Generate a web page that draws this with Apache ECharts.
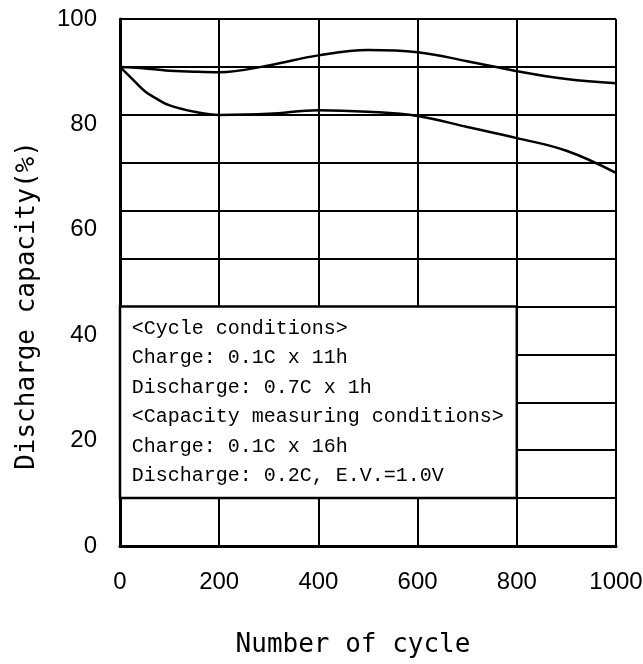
<!DOCTYPE html>
<html>
<head>
<meta charset="utf-8">
<title>Discharge capacity</title>
<script src="https://cdn.jsdelivr.net/npm/echarts@6/dist/echarts.min.js"></script>
<style>
  body { margin: 0; background: #fff; }
  #main { width: 643px; height: 664px; }
</style>
</head>
<body>
<div id="main"></div>
<script>
// data
var cycles = [0, 25, 50, 75, 100, 150, 200, 300, 400, 500, 600, 700, 800, 900, 1000];
var upperCurve = [90.9, 90.8, 90.6, 90.4, 90.2, 90.0, 89.9, 91.2, 93.1, 94.1, 93.7, 92.0, 90.1, 88.6, 87.8];
var lowerCurve = [90.9, 88.6, 86.3, 84.8, 83.6, 82.4, 81.8, 82.0, 82.7, 82.4, 81.6, 79.5, 77.4, 75.0, 70.8];
var xTicks = [0, 200, 400, 600, 800, 1000];
var yTicks = [0, 20, 40, 60, 80, 100];
var gridRows = 11; // horizontal rules split the box in 11 bands
var noteLines = [
  '<Cycle conditions>',
  'Charge: 0.1C x 11h',
  'Discharge: 0.7C x 1h',
  '<Capacity measuring conditions>',
  'Charge: 0.1C x 16h',
  'Discharge: 0.2C, E.V.=1.0V'
];

var chart = echarts.init(document.getElementById('main'));

function pairs(xs, ys) {
  return xs.map(function (x, i) { return [x, ys[i]]; });
}

var labelFont = { color: '#000', fontFamily: 'Liberation Sans', fontSize: 24 };
var titleFont = { color: '#000', fontFamily: 'DejaVu Sans Mono', fontSize: 26 };

var option = {
  animation: false,
  backgroundColor: '#fff',
  grid: { left: 120, right: 27, top: 19, bottom: 118, outerBoundsMode: 'none' },
  xAxis: {
    type: 'value',
    min: xTicks[0],
    max: xTicks[xTicks.length - 1],
    interval: xTicks[1] - xTicks[0],
    name: 'Number of cycle',
    nameLocation: 'middle',
    nameGap: 86,
    nameTextStyle: Object.assign({ padding: [0, 30, 0, 0] }, titleFont),
    axisLine: { show: true, lineStyle: { color: '#000', width: 3 } },
    axisTick: { show: false },
    axisLabel: Object.assign({ margin: 24, formatter: function (v) { return String(v); } }, labelFont),
    splitLine: { show: true, lineStyle: { color: '#000', width: 2 } }
  },
  yAxis: [
    {
      type: 'value',
      min: yTicks[0],
      max: yTicks[yTicks.length - 1],
      interval: yTicks[1] - yTicks[0],
      name: 'Discharge capacity(%)',
      nameLocation: 'middle',
      nameGap: 80,
      nameTextStyle: Object.assign({ padding: [0, 46, 0, 0] }, titleFont),
      axisLine: { show: true, lineStyle: { color: '#000', width: 3 } },
      axisTick: { show: false },
      axisLabel: Object.assign({ margin: 23 }, labelFont),
      splitLine: { show: false }
    },
    {
      // only draws the 11 horizontal rules
      type: 'value',
      min: 0,
      max: gridRows,
      interval: 1,
      position: 'left',
      axisLine: { show: false },
      axisTick: { show: false },
      axisLabel: { show: false },
      splitLine: { show: true, lineStyle: { color: '#000', width: 2 } }
    }
  ],
  series: [
    {
      type: 'line',
      yAxisIndex: 1,
      data: [],
      silent: true,
      markArea: {
        silent: true,
        itemStyle: { color: '#fff', borderColor: '#000', borderWidth: 2.5 },
        label: {
          show: true,
          position: 'insideLeft',
          distance: 13,
          formatter: noteLines.join('\n'),
          color: '#000',
          fontFamily: 'Liberation Mono',
          fontSize: 20,
          lineHeight: 29.5
        },
        data: [[{ coord: [0, 1] }, { coord: [800, 5] }]]
      }
    },
    {
      name: 'upper',
      type: 'line',
      smooth: 0.4,
      showSymbol: false,
      lineStyle: { color: '#000', width: 2.5 },
      data: pairs(cycles, upperCurve)
    },
    {
      name: 'lower',
      type: 'line',
      smooth: 0.4,
      showSymbol: false,
      lineStyle: { color: '#000', width: 2.5 },
      data: pairs(cycles, lowerCurve)
    }
  ]
};

chart.setOption(option);
</script>
</body>
</html>
